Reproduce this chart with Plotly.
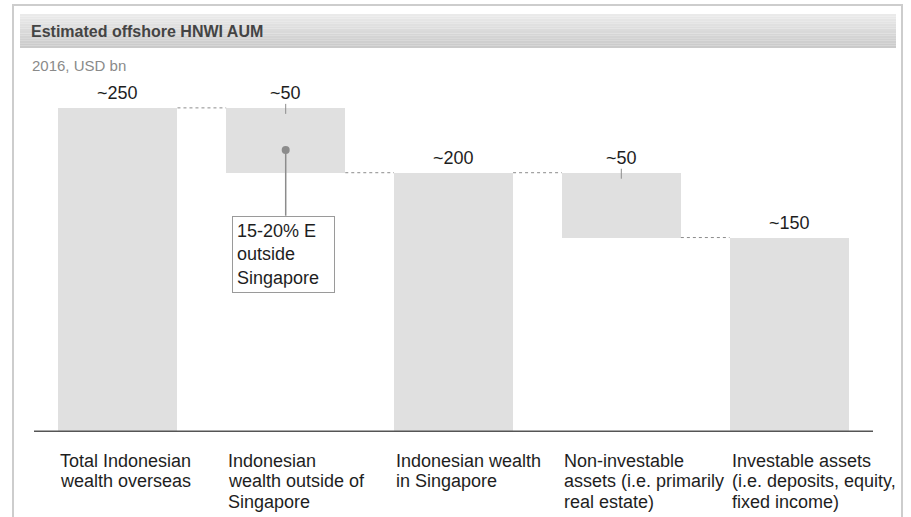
import plotly.graph_objects as go

# Waterfall of Indonesian offshore HNWI wealth, 2016, USD bn
categories = [
    "Total Indonesian<br>wealth overseas",
    "Indonesian<br>wealth outside of<br>Singapore",
    "Indonesian wealth<br>in Singapore",
    "Non-investable<br>assets (i.e. primarily<br>real estate)",
    "Investable assets<br>(i.e. deposits, equity,<br>fixed income)",
]
values = [250, 50, 200, 50, 150]
measures = ["total", "drop", "total", "drop", "total"]
value_labels = ["~250", "~50", "~200", "~50", "~150"]
callout_text = "15-20% E<br>outside<br>Singapore"
title_text = "Estimated offshore HNWI AUM"
subtitle_text = "2016, USD bn"

FONT = "Liberation Sans, Arial, sans-serif"
BAR_COLOR = "#e0e0e0"
TEXT_COLOR = "#1e1e1e"
BAR_WIDTH = 0.71

W, H = 911, 517
M_L, M_R, M_T, M_B = 34, 38, 69, 85
PLOT_W = W - M_L - M_R
PLOT_H = H - M_T - M_B
Y_MAX = 280
PX_PER_UNIT = PLOT_H / Y_MAX


def px_x(px):
    return (px - M_L) / PLOT_W


def px_y(py):
    return (H - M_B - py) / PLOT_H


# floating bar bases from the running total
bases, tops, levels = [], [], []
level = 0
for v, m in zip(values, measures):
    if m == "total":
        base = 0
        level = v
    else:
        base = level - v
        level = level - v
    bases.append(base)
    tops.append(base + v)
    levels.append(level)

xs = list(range(len(values)))

fig = go.Figure()
fig.add_trace(go.Bar(
    x=xs, y=values, base=bases, width=BAR_WIDTH,
    marker=dict(color=BAR_COLOR, line=dict(width=0)),
    hoverinfo="skip", showlegend=False,
))

shapes = []
annotations = []

# outer frame
shapes.append(dict(type="rect", xref="paper", yref="paper",
                   x0=px_x(13), x1=px_x(902), y0=px_y(530), y1=px_y(5),
                   line=dict(color="#cdcdcd", width=2), fillcolor="rgba(0,0,0,0)", layer="below"))

# header band with a soft vertical gradient
n_strips = 14
top_px, bot_px = 14, 48
c_top, c_bot = (234, 234, 234), (202, 202, 202)
for k in range(n_strips):
    t = k / (n_strips - 1)
    c = tuple(int(round(a + (b - a) * t)) for a, b in zip(c_top, c_bot))
    y0p = top_px + (bot_px - top_px) * k / n_strips
    y1p = top_px + (bot_px - top_px) * (k + 1) / n_strips
    shapes.append(dict(type="rect", xref="paper", yref="paper",
                       x0=px_x(20), x1=px_x(896), y0=px_y(y1p), y1=px_y(y0p),
                       line=dict(width=0), fillcolor="rgb(%d,%d,%d)" % c, layer="below"))

annotations.append(dict(text="<b>%s</b>" % title_text, xref="paper", yref="paper",
                        x=px_x(29), y=px_y(32), xanchor="left", yanchor="middle",
                        showarrow=False, font=dict(family=FONT, size=16, color="#444444")))
annotations.append(dict(text=subtitle_text, xref="paper", yref="paper",
                        x=px_x(30), y=px_y(65), xanchor="left", yanchor="middle",
                        showarrow=False, font=dict(family=FONT, size=15, color="#8a8a8a")))

# baseline
shapes.append(dict(type="line", xref="paper", yref="y", x0=0, x1=1, y0=0, y1=0,
                   line=dict(color="#555555", width=3)))

# dotted connectors between neighbouring bars
for i in range(len(values) - 1):
    shapes.append(dict(type="line", xref="x", yref="y",
                       x0=i + BAR_WIDTH / 2, x1=i + 1 - BAR_WIDTH / 2,
                       y0=levels[i], y1=levels[i],
                       line=dict(color="#8c8c8c", width=1, dash="dot")))

# value labels, with a short tick on the decrement bars
for i, (lab, top, m) in enumerate(zip(value_labels, tops, measures)):
    annotations.append(dict(text=lab, x=i, y=top, xref="x", yref="y",
                            xanchor="center", yanchor="middle", yshift=15,
                            showarrow=False, font=dict(family=FONT, size=18, color=TEXT_COLOR)))
    if m == "drop":
        shapes.append(dict(type="line", xref="x", yref="y", ysizemode="pixel",
                           yanchor=top, x0=i, x1=i, y0=-6, y1=4,
                           line=dict(color="#8c8c8c", width=1)))

# category labels under the axis, one line each
line_rows = [461, 481, 502]
for i, cat in enumerate(categories):
    for j, part in enumerate(cat.split("<br>")):
        annotations.append(dict(text=part, x=i - BAR_WIDTH / 2, y=px_y(line_rows[j]),
                                xref="x", yref="paper", xanchor="left", yanchor="middle",
                                showarrow=False,
                                font=dict(family=FONT, size=18, color=TEXT_COLOR)))

# callout on the "outside Singapore" bar
ci = 1
dot_y = bases[ci] + 0.35 * values[ci]
box_gap_px = 43
box_top = bases[ci] - box_gap_px / PX_PER_UNIT
fig.add_trace(go.Scatter(x=[ci, ci], y=[dot_y, box_top], mode="lines",
                         line=dict(color="#8c8c8c", width=1.5),
                         hoverinfo="skip", showlegend=False))
fig.add_trace(go.Scatter(x=[ci], y=[dot_y], mode="markers",
                         marker=dict(color="#8c8c8c", size=8),
                         hoverinfo="skip", showlegend=False))
annotations.append(dict(text=callout_text, x=ci - 0.015, y=box_top, xref="x", yref="y",
                        xanchor="center", yanchor="top", align="left", width=93,
                        showarrow=False, bgcolor="white", bordercolor="#9a9a9a",
                        borderwidth=1, borderpad=4,
                        font=dict(family=FONT, size=18, color=TEXT_COLOR)))

fig.update_layout(
    width=W, height=H,
    margin=dict(l=M_L, r=M_R, t=M_T, b=M_B),
    paper_bgcolor="white", plot_bgcolor="white",
    xaxis=dict(range=[-0.5, 4.5], showgrid=False, zeroline=False,
               showticklabels=False, ticks="", fixedrange=True),
    yaxis=dict(range=[0, Y_MAX], showgrid=False, zeroline=False,
               showticklabels=False, ticks="", fixedrange=True),
    shapes=shapes, annotations=annotations,
    bargap=0, showlegend=False,
)

fig.write_html("out.html")
